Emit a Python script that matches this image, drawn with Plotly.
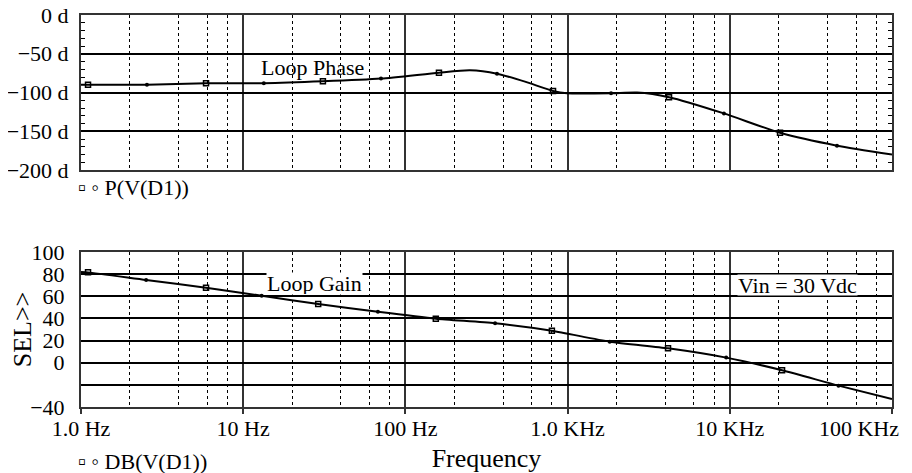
import plotly.graph_objects as go
from plotly.subplots import make_subplots

# ---------------- data ----------------
phase_freq = [1, 1.105, 2.55, 5.9, 13.4, 31, 70.7, 161, 250, 367, 546, 813, 991,
              1853, 2680, 4220, 9200, 20400, 45800, 100000]
phase_deg = [-90, -90, -90, -88, -88, -85.6, -82, -74.4, -71.4, -75.7, -86, -98, -101,
             -101, -100, -106, -127, -152, -168.6, -180]
phase_marker_idx = [1, 2, 3, 4, 5, 6, 7, 9, 11, 13, 15, 16, 17, 18]

gain_freq = [1, 1.105, 2.52, 5.9, 13, 29, 67.7, 154, 357, 800, 1820, 4160, 9500,
             21000, 46800, 100000]
gain_db = [82, 81.6, 74.7, 67.8, 60.5, 53, 46, 39.8, 35.6, 28.9, 19, 13, 4.6,
           -6.8, -20.7, -32.8]
gain_marker_idx = list(range(1, 15))

x_tick_vals = [1, 10, 100, 1000, 10000, 100000]
x_tick_text = ["1.0 Hz", "10 Hz", "100 Hz", "1.0 KHz", "10 KHz", "100 KHz"]
x_minor_vals = [m * 10 ** d for d in range(5) for m in (2, 4, 6, 8)]

phase_tick_vals = [0, -50, -100, -150, -200]
phase_tick_text = ["0 d", "\u221250 d", "\u2212100 d", "\u2212150 d", "\u2212200 d"]
gain_tick_vals = [100, 80, 60, 40, 20, 0, -20, -40]
gain_tick_text = ["100", "80", "60", "40", "20", "0", "", "\u221240"]

FONT = "Liberation Serif"
FS = 22

fig = make_subplots(rows=2, cols=1)


def add_curve(freq, vals, idx, row):
    fig.add_trace(go.Scatter(x=freq, y=vals, mode="lines",
                             line=dict(color="black", width=2, shape="spline", smoothing=0.6),
                             showlegend=False, hoverinfo="skip"), row=row, col=1)
    sq = [i for k, i in enumerate(idx) if k % 2 == 0]
    ci = [i for k, i in enumerate(idx) if k % 2 == 1]
    fig.add_trace(go.Scatter(x=[freq[i] for i in sq], y=[vals[i] for i in sq], mode="markers",
                             marker=dict(symbol="square-open", size=5, color="black",
                                         line=dict(width=1.5, color="black")),
                             showlegend=False), row=row, col=1)
    fig.add_trace(go.Scatter(x=[freq[i] for i in ci], y=[vals[i] for i in ci], mode="markers",
                             marker=dict(symbol="circle", size=4, color="black"),
                             showlegend=False), row=row, col=1)


add_curve(phase_freq, phase_deg, phase_marker_idx, 1)
add_curve(gain_freq, gain_db, gain_marker_idx, 2)

# invisible trace that carries the right-hand tick axis of the phase plot
fig.add_trace(go.Scatter(x=[phase_freq[0]], y=[phase_deg[0]], mode="markers",
                         marker=dict(opacity=0), showlegend=False, hoverinfo="skip",
                         xaxis="x", yaxis="y3"))

common_x = dict(
    type="log", range=[0, 5], tickvals=x_tick_vals, automargin=False,
    showgrid=True, gridcolor="#333333", gridwidth=1.6,
    showline=True, mirror=True, linecolor="#333333", linewidth=2,
    zeroline=False,
    minor=dict(tickvals=x_minor_vals, showgrid=True, gridcolor="black",
               gridwidth=1, griddash="dot", ticks=""),
)

padded = x_tick_text[:-1] + [x_tick_text[-1] + "\u00a0" * 12]

# page body has an 8px margin, so the figure is 8px smaller than the window
fig.update_layout(
    width=904, height=465,
    margin=dict(l=73, r=20, t=7, b=66),
    paper_bgcolor="white", plot_bgcolor="white",
    font=dict(family=FONT, size=FS, color="black"),
    xaxis=dict(common_x, domain=[0, 1], showticklabels=False, ticks=""),
    yaxis=dict(domain=[0.6046, 1], range=[-200, 0], tickvals=phase_tick_vals,
               ticktext=phase_tick_text, showgrid=True, gridcolor="black", gridwidth=1.5,
               showline=True, mirror=True, linecolor="#333333", linewidth=2,
               zeroline=False, ticks="inside", ticklen=4, tickcolor="black",
               ticklabelstandoff=6, automargin=False, ticklabeloverflow="allow",
               minor=dict(dtick=10, ticks="inside", ticklen=4, tickcolor="black",
                          showgrid=False)),
    yaxis3=dict(overlaying="y", anchor="x", side="right", range=[-200, 0],
                tickvals=phase_tick_vals, showticklabels=False, showgrid=False,
                zeroline=False, showline=False, ticks="inside", ticklen=4,
                tickcolor="black", automargin=False,
                minor=dict(dtick=10, ticks="inside", ticklen=4, tickcolor="black",
                           showgrid=False)),
    xaxis2=dict(common_x, domain=[0, 1], ticktext=padded, ticks="outside", ticklen=5,
                tickcolor="#333333", tickwidth=1.5, ticklabeloverflow="allow",
                ticklabelstandoff=-4,
                title=dict(text="Frequency", standoff=10)),
    yaxis2=dict(domain=[0, 0.3954], range=[-40, 100], tickvals=gain_tick_vals,
                ticktext=gain_tick_text, showgrid=True, gridcolor="black", gridwidth=1.5,
                showline=True, mirror=True, linecolor="#333333", linewidth=2,
                zeroline=False, ticks="", ticklabelstandoff=10, automargin=False,
                title=dict(text="SEL>>", standoff=14)),
)

annots = [
    dict(text="\u25ab \u25e6 P(V(D1))", x=-0.005, y=0.5587),
    dict(text="\u25ab \u25e6 DB(V(D1))", x=-0.005, y=-0.1403),
    dict(text="Loop Phase", x=0.2207, y=0.867),
    dict(text="Loop Gain", x=0.228, y=0.3163, bgcolor="white", height=21),
    dict(text="Vin = 30 Vdc", x=0.809, y=0.31, bgcolor="white", height=20),
]
for a in annots:
    fig.add_annotation(xref="paper", yref="paper", xanchor="left", yanchor="middle",
                       showarrow=False, borderpad=0, **a)

fig.write_html("out.html")
